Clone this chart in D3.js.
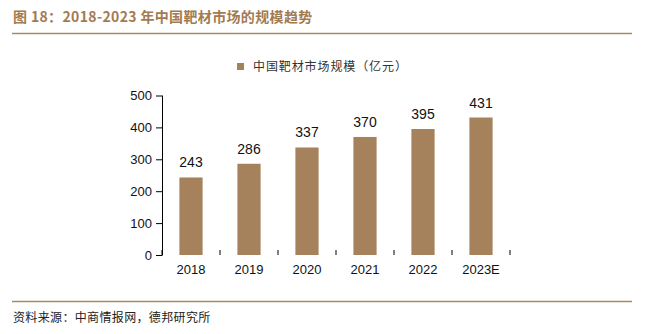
<!DOCTYPE html>
<html><head><meta charset="utf-8">
<script src="https://cdn.jsdelivr.net/npm/d3@7"></script>
<style>body{margin:0;background:#fff;}svg{display:block;}</style>
</head><body>
<svg id="c" width="658" height="334"></svg>
<script>
const categories = ["2018","2019","2020","2021","2022","2023E"];
const values = [243,286,337,370,395,431];
const yTicks = [0,100,200,300,400,500];
const titleText = "图 18：2018-2023 年中国靶材市场的规模趋势";
const legendText = "中国靶材市场规模（亿元）";
const sourceText = "资料来源：中商情报网，德邦研究所";

const svg = d3.select("#c");
const brown = "#a5825c";
const cjk = "'Noto Sans CJK SC', sans-serif";
const lat = "'Liberation Sans', Arial, sans-serif";

svg.append("text").attr("x",13).attr("y",22).attr("fill","#a27b52")
  .attr("font-family",cjk).attr("font-weight","bold").attr("font-size",14)
  .attr("letter-spacing",0.35).text(titleText);
svg.append("line").attr("x1",12).attr("x2",632).attr("y1",33.5).attr("y2",33.5)
  .attr("stroke","#a88a66").attr("stroke-width",1.5);
svg.append("line").attr("x1",12).attr("x2",632).attr("y1",301.5).attr("y2",301.5)
  .attr("stroke","#a88a66").attr("stroke-width",1.5);
svg.append("text").attr("x",13).attr("y",322).attr("fill","#222")
  .attr("font-family",cjk).attr("font-size",12).attr("letter-spacing",0.35).text(sourceText);

// legend
svg.append("rect").attr("x",237).attr("y",63).attr("width",7).attr("height",7).attr("fill",brown);
svg.append("text").attr("x",253).attr("y",71).attr("fill","#333")
  .attr("font-family",cjk).attr("font-size",12).attr("letter-spacing",0.9).text(legendText);

const x = d3.scaleBand().domain(categories).range([162,510]).paddingInner(0.6).paddingOuter(0.3);
const y = d3.scaleLinear().domain([0,500]).range([255,95.5]);

const yAxis = svg.append("g").attr("transform","translate(162,0)")
  .call(d3.axisLeft(y).tickValues(yTicks).tickSize(6).tickPadding(4));
const xb = d3.scaleBand().domain(categories).range([162,510]);
const xAxis = svg.append("g").attr("transform","translate(0,255)")
  .call(d3.axisBottom(xb).tickSize(0).tickPadding(10));
// category boundary ticks
[...categories.map(c=>xb(c)), 510].forEach(px=>{
  svg.append("line").attr("x1",px).attr("x2",px).attr("y1",255).attr("y2",250).attr("stroke","#000");
});
[yAxis,xAxis].forEach(g=>{
  g.selectAll("path").attr("stroke","#000");
  g.selectAll("line").attr("stroke","#000");
  g.selectAll("text").attr("font-family",lat).attr("font-size",13).attr("fill","#111");
});
yAxis.select(".domain").attr("d","M0.5,95.5V255.5");
xAxis.select(".domain").attr("d","M162,255.5H510.5");

svg.append("g").selectAll("rect").data(values).join("rect")
  .attr("x",(d,i)=>x(categories[i])).attr("width",x.bandwidth())
  .attr("y",d=>y(d)).attr("height",d=>y(0)-y(d)).attr("fill",brown);
svg.append("g").selectAll("text").data(values).join("text")
  .attr("x",(d,i)=>x(categories[i])+x.bandwidth()/2).attr("y",d=>y(d)-10)
  .attr("text-anchor","middle").attr("font-family",lat).attr("font-size",14).attr("fill","#111")
  .text(d=>d);
</script>
</body></html>
